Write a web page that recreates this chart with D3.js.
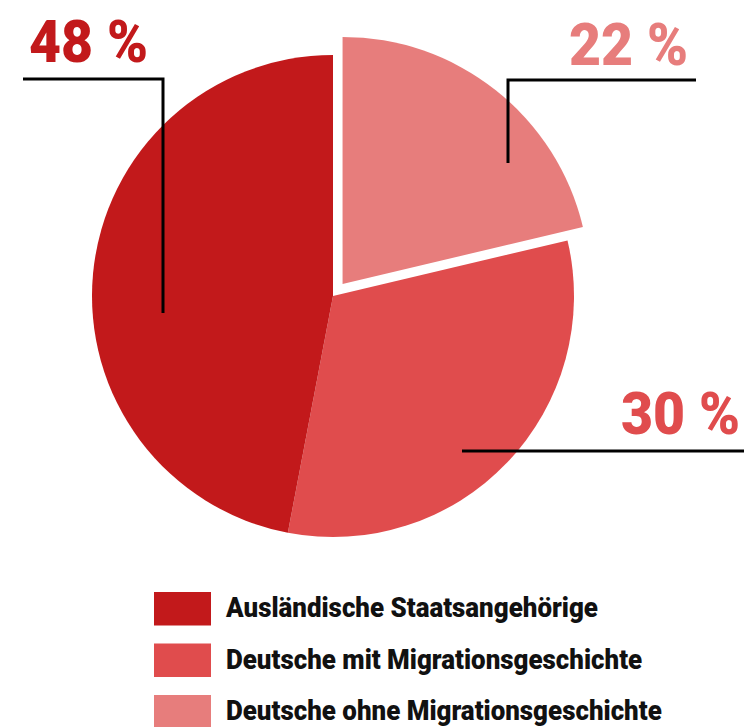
<!DOCTYPE html>
<html><head><meta charset="utf-8">
<script src="https://cdn.jsdelivr.net/npm/d3@7"></script>
<style>html,body{margin:0;padding:0;background:#fff;}svg{display:block;}</style>
</head><body>
<svg id="c" width="744" height="727"></svg>
<script>
// Data (legend order)
const categories = ["Ausländische Staatsangehörige", "Deutsche mit Migrationsgeschichte", "Deutsche ohne Migrationsgeschichte"];
const values = [47.0, 31.7, 21.3];           // shares as drawn (slice angles)
const labels = ["48 %", "30 %", "22 %"];      // printed labels
const colors = ["#c2191b", "#e04c4d", "#e77d7c"];

// Layout
const W = 744, H = 727;
const cx = 333, cy = 296, R = 241;
const svg = d3.select("#c");

// pie drawing order clockwise from 12 o'clock: light, mid, dark
const order = [2, 1, 0];
const pie = d3.pie().sort(null).value(i => values[i]).startAngle(0).endAngle(2 * Math.PI);
const arcs = pie(order);
const g = svg.append("g").attr("transform", `translate(${cx},${cy})`);
g.selectAll("path").data(arcs).join("path")
  .attr("d", d => d3.arc().innerRadius(0).outerRadius(d.data === 2 ? R + 6 : R)(d))
  .attr("fill", d => colors[d.data])
  .attr("transform", d => {
    if (d.data !== 2) return null;
    const a = (d.startAngle + d.endAngle) / 2, off = 15.4;
    return `translate(${Math.sin(a) * off},${-Math.cos(a) * off})`;
  });

// Annotations: leader lines + labels (layout positions)
const ann = [
  { idx: 0, path: [[23, 79], [163, 79], [163, 313]], tx: 29, ty: 62, anchor: "start" },
  { idx: 2, path: [[696, 80], [508, 80], [508, 163]], tx: 688, ty: 65, anchor: "end" },
  { idx: 1, path: [[744, 451], [462, 451]], tx: 740, ty: 434, anchor: "end" }
];
const line = d3.line();
let pctScale = null;
ann.forEach(a => {
  svg.append("path").attr("d", line(a.path)).attr("fill", "none")
    .attr("stroke", "#000").attr("stroke-width", 3);
  const t = svg.append("text").attr("x", 0).attr("y", 0)
    .attr("font-family", "Roboto, sans-serif").attr("font-weight", 900)
    .attr("font-size", 60).attr("fill", colors[a.idx])
    .attr("text-anchor", a.anchor)
    .text(labels[a.idx]);
  if (pctScale === null) pctScale = 119 / t.node().getComputedTextLength();
  t.attr("transform", `translate(${a.tx},${a.ty}) scale(${pctScale},1)`);
});

// Legend
const lg = svg.append("g");
const rowY = d3.scalePoint().domain(d3.range(categories.length)).range([592, 695]);
let legScale = null;
categories.forEach((c, i) => {
  const y = rowY(i);
  lg.append("rect").attr("x", 154).attr("y", y).attr("width", 57).attr("height", 33.5).attr("fill", colors[i]);
  const t = lg.append("text").attr("x", 0).attr("y", 0)
    .attr("font-family", "Roboto, sans-serif").attr("font-weight", 900)
    .attr("font-size", 28).attr("fill", "#111")
    .text(c);
  if (legScale === null) legScale = 372 / t.node().getComputedTextLength();
  t.attr("transform", `translate(226,${y + 25}) scale(${legScale},1)`);
});
</script>
</body></html>
